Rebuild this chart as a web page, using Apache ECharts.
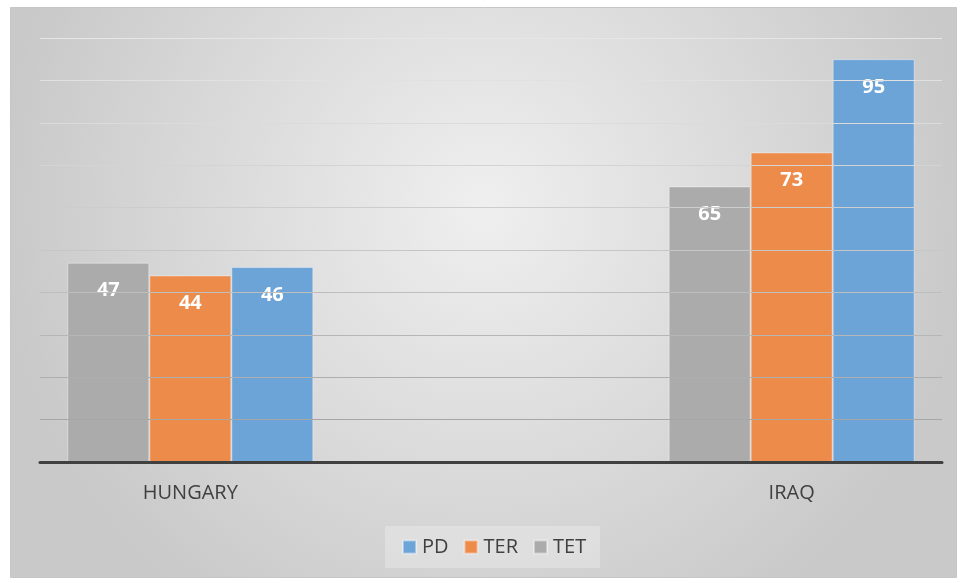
<!DOCTYPE html>
<html>
<head>
<meta charset="utf-8">
<script src="https://cdn.jsdelivr.net/npm/echarts@6/dist/echarts.min.js"></script>
<style>
  html, body { margin: 0; padding: 0; background: #fff; }
  #chart { width: 967px; height: 583px; }
</style>
</head>
<body>
<div id="chart"></div>
<script>
const categories = ['HUNGARY', 'IRAQ']
const tetValues = [47, 65]
const terValues = [44, 73]
const pdValues = [46, 95]
const legendNames = ['PD', 'TER', 'TET']

// the two groups sit at 1/6 and 5/6 of the plot width, so pad the axis with empty slots
const slotOf = [1, 5]
const slotCount = 7
const axisData = new Array(slotCount).fill('')
slotOf.forEach((s, i) => { axisData[s] = categories[i] })
const pad = (vals) => {
  let out = new Array(slotCount).fill(null)
  slotOf.forEach((s, i) => { out[s] = vals[i] })
  return out
}

const chart = echarts.init(document.getElementById('chart'))

const barLabel = {
  show: true,
  position: 'insideTop',
  distance: 18,
  color: '#fff',
  fontSize: 20,
  fontWeight: 'bold',
  fontFamily: 'Open Sans'
}

const makeSeries = (name, vals, color) => ({
  name: name,
  type: 'bar',
  barWidth: 82,
  barGap: '0%',
  data: pad(vals),
  itemStyle: {
    color: color,
    borderColor: 'rgba(255,255,255,0.4)',
    borderWidth: 1
  },
  label: barLabel
})

chart.setOption({
  animation: false,
  textStyle: { fontFamily: 'Open Sans' },
  graphic: [{
    type: 'rect',
    z: -10,
    silent: true,
    shape: { x: 10.5, y: 7.5, width: 946, height: 570 },
    style: {
      fill: new echarts.graphic.RadialGradient(0.5, 0.35, 0.85, [
        { offset: 0, color: '#efefef' },
        { offset: 1, color: '#c9c9c9' }
      ]),
      stroke: '#c6c6c6',
      lineWidth: 1
    }
  }],
  grid: { left: 40, right: 25, top: 38, bottom: 121 },
  legend: {
    data: legendNames,
    bottom: 15,
    left: 385,
    itemWidth: 13,
    itemHeight: 13,
    itemGap: 15,
    padding: [11, 14, 11, 17],
    backgroundColor: 'rgba(255,255,255,0.25)',
    textStyle: { fontSize: 20, color: '#404040', fontFamily: 'Open Sans', padding: [0, 0, 0, 1] },
    icon: 'rect'
  },
  xAxis: {
    type: 'category',
    data: axisData,
    boundaryGap: false,
    z: 4,
    axisLine: { lineStyle: { color: '#404040', width: 3 } },
    axisTick: { show: false },
    axisLabel: { color: '#404040', fontSize: 20, margin: 21, interval: 0 },
    splitLine: { show: false }
  },
  yAxis: {
    type: 'value',
    min: 0,
    max: 100,
    interval: 10,
    z: 3,
    axisLine: { show: false },
    axisTick: { show: false },
    axisLabel: { show: false },
    splitLine: {
      lineStyle: {
        width: 1,
        color: ['#a0a0a0', '#a6a6a6', '#aeaeae', '#b6b6b6', '#bebebe', '#c6c6c6', '#cdcdcd', '#d4d4d4', '#dbdbdb', '#e1e1e1', '#e6e6e6']
      }
    }
  },
  series: [
    makeSeries('TET', tetValues, '#ababab'),
    makeSeries('TER', terValues, '#ec8b4a'),
    makeSeries('PD', pdValues, '#6ca4d7')
  ]
})
</script>
</body>
</html>
